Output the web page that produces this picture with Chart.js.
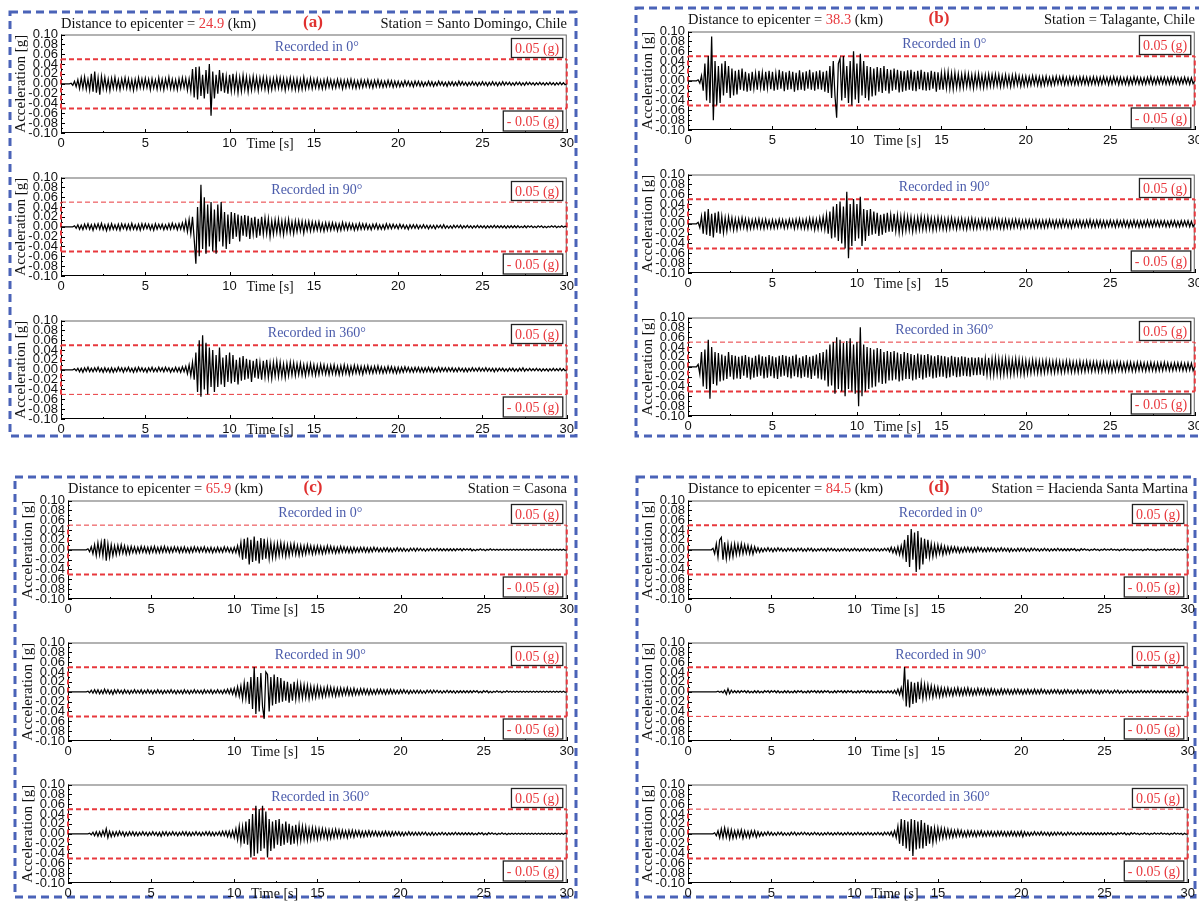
<!DOCTYPE html>
<html>
<head>
<meta charset="utf-8">
<script src="https://cdn.jsdelivr.net/npm/chart.js@4.4.0/dist/chart.umd.min.js"></script>
<style>
  html, body { margin:0; padding:0; background:#fff; width:1199px; height:901px; overflow:hidden; position:relative; }
  canvas.plot { position:absolute; }
  #frames { position:absolute; left:0; top:0; }
  .hdr { position:absolute; font-family:'Liberation Serif','Times New Roman',serif; font-size:14.5px; line-height:18px; color:#111; white-space:nowrap; }
  .red { color:#e8383d; }
  .tag { font-weight:bold; font-size:17px; color:#e0302f; text-align:center; }
</style>
</head>
<body>
<canvas id="frames" width="1199" height="901"></canvas>
<script>
const stations = ['Santo Domingo, Chile', 'Talagante, Chile', 'Casona', 'Hacienda Santa Martina'];
const distances = ['24.9', '38.3', '65.9', '84.5'];
const panelTags = ['(a)', '(b)', '(c)', '(d)'];
const directions = ['0°', '90°', '360°'];
const limitG = 0.05;
const yMin = -0.1, yMax = 0.1, yStep = 0.02;
const xMax = 30, xStep = 5;
const dt = 0.1;   // one value every 0.1 s

// accelerations in thousandths of g, one row = 1 s
const a0 = [
0,0,0,0,0,0,1,-3,5,-6, 8,-10,12,-9,14,-11,9,-13,20,-16, 25,-18,12,-22,15,-10,13,-12,9,-14,
11,-9,13,-10,8,-12,10,-8,12,-9, 10,-11,8,-13,9,-10,12,-8,10,-9, 11,-8,9,-12,10,-9,8,-11,12,-10,
9,-12,10,-8,13,-10,9,-11,8,-12, 10,-9,12,-8,11,-13,10,-15,30,-28, 34,-32,35,-25,18,-30,28,-20,40,-65,
25,-30,18,-20,28,-15,22,-18,15,-20, 18,-15,20,-14,16,-18,13,-15,17,-12, 14,-16,12,-13,15,-11,13,-14,12,-10,
13,-11,12,-14,10,-12,11,-10,13,-9, 12,-10,11,-13,10,-9,12,-11,10,-12, 10,-12,9,-11,13,-10,8,-9,11,-10,
9,-8,10,-9,7,-10,8,-9,10,-7, 8,-9,7,-8,9,-7,8,-10,7,-8, 8,-7,9,-8,7,-9,6,-8,8,-7,
7,-6,8,-7,6,-8,7,-6,8,-6, 6,-7,5,-6,7,-5,6,-7,5,-6, 5,-6,4,-5,6,-4,5,-5,4,-6,
5,-4,5,-5,4,-5,3,-4,5,-4, 4,-5,3,-4,5,-3,4,-4,3,-5, 4,-3,4,-4,3,-4,5,-3,4,-3,
3,-4,3,-3,4,-3,3,-4,3,-3, 4,-3,3,-4,3,-3,4,-3,3,-4, 3,-3,4,-3,3,-2,3,-3,2,-3,
3,-2,3,-3,2,-3,3,-2,3,-2, 2,-3,2,-2,3,-2,2,-3,2,-2, 3,-2,2,-3,2,-2,3,-2,2,-2, 0];
const a90 = [
0,0,0,0,0,0,0,0,2,-3, 4,-5,3,-6,5,-4,6,-5,4,-7, 5,-4,6,-5,7,-6,4,-8,5,-6,
6,-5,4,-6,5,-7,6,-4,5,-6, 5,-6,7,-5,4,-6,5,-7,6,-5, 6,-4,5,-6,4,-7,6,-5,5,-4,
5,-6,4,-5,6,-5,7,-4,5,-6, 6,-5,8,-7,12,-10,15,-14,20,-25, -75,40,-60,85,-45,60,-55,45,-40,50,
-50,35,-55,45,-30,50,-40,30,-45,25, -35,30,-25,28,-20,25,-30,22,-18,24, -20,22,-25,18,-15,20,-22,16,-18,20,
-15,18,-14,16,-20,12,-15,14,-12,15, -14,12,-16,13,-11,15,-12,10,-14,12, -10,12,-9,11,-13,10,-8,11,-9,10,
-8,9,-7,10,-8,7,-9,8,-7,8, -7,8,-6,7,-8,6,-7,9,-6,7, -6,7,-5,6,-7,5,-6,7,-5,6,
-5,6,-5,4,-6,5,-4,6,-5,4, -5,4,-5,6,-4,5,-4,5,-3,4, -4,5,-3,4,-4,3,-5,4,-3,4,
-3,4,-4,3,-3,4,-3,3,-4,3, -3,3,-4,3,-2,3,-3,4,-3,2, -3,2,-3,3,-2,3,-2,3,-3,2,
-2,3,-2,2,-3,2,-2,3,-2,2, -2,2,-3,2,-2,2,-2,3,-2,2, -2,2,-2,2,-3,2,-2,2,-2,2,
-2,2,-2,1,-2,2,-2,2,-1,2, -2,1,-2,2,-1,2,-2,1,-2,1, -1,2,-1,2,-2,1,-1,2,-1,1, 0];
const a360 = [
0,0,0,0,0,0,0,0,2,-2, 3,-4,3,-5,4,-3,5,-4,3,-4, 4,-3,5,-4,3,-5,4,-4,3,-5,
4,-5,3,-4,5,-3,4,-5,4,-3, 5,-4,3,-5,4,-4,5,-3,4,-4, 3,-5,4,-3,5,-4,3,-4,5,-3,
4,-4,5,-3,4,-5,3,-4,5,-4, 4,-5,6,-4,7,-8,10,-12,15,-20, 35,-45,60,-55,70,-40,55,-50,45,-35,
40,-45,30,-35,45,-30,25,-35,30,-25, 35,-28,30,-25,20,-30,25,-22,28,-20, 22,-18,20,-25,18,-16,22,-18,15,-20,
18,-15,20,-16,14,-18,15,-13,17,-14, 15,-14,12,-16,13,-12,15,-11,14,-12, 12,-10,13,-11,10,-12,11,-9,12,-10,
10,-11,9,-10,11,-8,10,-9,8,-10, 9,-8,10,-9,7,-10,8,-9,10,-8, 8,-10,7,-8,9,-7,8,-8,7,-9,
7,-6,8,-7,6,-7,7,-6,8,-6, 6,-7,5,-6,7,-5,6,-6,5,-7, 5,-6,5,-5,6,-4,5,-5,4,-5,
5,-4,5,-5,4,-5,4,-4,5,-4, 4,-5,3,-4,5,-4,4,-3,4,-4, 4,-3,4,-4,3,-4,4,-3,3,-4,
3,-4,3,-3,4,-3,3,-3,4,-3, 3,-3,4,-3,3,-3,3,-4,3,-3, 3,-2,3,-3,2,-3,3,-2,3,-3,
2,-3,3,-2,4,-3,2,-2,3,-2, 2,-2,3,-2,2,-3,2,-2,2,-3, 2,-2,3,-2,2,-2,3,-2,2,-2, 0];
const b0 = [
0,0,0,0,0,0,2,-5,10,-20, 35,-40,50,-45,90,-80,40,-50,30,-45, 35,-30,40,-25,30,-35,25,-30,20,-28,
22,-18,25,-20,18,-22,15,-20,18,-16, 15,-18,20,-14,16,-20,18,-15,20,-17, 18,-20,15,-18,22,-16,19,-21,17,-18,
20,-17,18,-22,16,-19,21,-18,17,-20, 19,-16,22,-18,17,-20,19,-17,21,-18, 18,-22,20,-25,30,-35,40,-30,-75,35,
45,-40,50,-35,30,-45,40,-50,60,-38, 35,-45,55,-30,40,-35,30,-40,28,-32, 25,-30,28,-22,26,-25,30,-20,24,-26,
22,-20,25,-18,22,-24,20,-22,19,-20, 21,-18,22,-20,18,-21,20,-17,22,-19, 18,-20,17,-19,20,-16,18,-22,17,-18,
16,-18,17,-15,18,-16,15,-17,16,-14, 14,-15,13,-14,15,-12,14,-13,12,-15, 13,-12,14,-13,11,-14,12,-12,13,-11,
12,-11,13,-10,12,-12,10,-11,12,-10, 10,-12,11,-10,12,-9,10,-11,9,-10, 9,-10,8,-9,10,-8,9,-9,8,-10,
8,-9,9,-8,7,-9,8,-8,9,-7, 8,-7,9,-8,7,-8,8,-7,8,-8, 7,-8,8,-7,8,-7,7,-8,7,-7,
8,-7,7,-8,7,-7,8,-6,7,-8, 7,-7,8,-6,7,-8,7,-7,6,-7, 7,-8,6,-7,8,-6,7,-7,6,-7,
6,-7,7,-6,8,-7,6,-7,7,-6, 7,-6,7,-7,6,-7,7,-6,7,-6, 6,-7,6,-6,7,-6,6,-7,6,-6, 0];
const b90 = [
0,0,0,0,0,0,3,-8,15,-20, 25,-22,30,-25,20,-28,22,-18,25,-20, 15,-18,12,-15,14,-10,12,-13,10,-12,
10,-9,12,-8,10,-11,9,-10,8,-9, 9,-8,10,-9,8,-10,9,-8,7,-9, 8,-9,7,-8,9,-7,8,-9,7,-8,
9,-7,8,-10,9,-8,10,-9,8,-10, 9,-10,11,-9,10,-12,9,-11,12,-10, 14,-12,18,-20,25,-30,35,-28,40,-35,
45,-40,35,-50,65,-70,40,-45,50,-35, 40,-30,55,-45,30,-35,28,-25,30,-22, 25,-20,22,-25,18,-22,20,-18,22,-16,
18,-16,20,-15,17,-18,15,-17,16,-14, 15,-13,14,-16,12,-14,13,-12,15,-12, 13,-12,14,-11,12,-13,11,-12,13,-10,
12,-11,10,-12,11,-10,12,-9,10,-11, 10,-9,11,-10,9,-11,10,-9,11,-10, 9,-10,8,-9,10,-8,9,-10,8,-9,
9,-8,10,-8,9,-9,8,-10,9,-8, 8,-9,8,-8,9,-7,8,-9,7,-8, 8,-7,8,-8,7,-8,8,-7,7,-8,
7,-8,7,-7,8,-6,7,-8,7,-7, 7,-7,8,-6,7,-7,6,-8,7,-6, 7,-6,7,-7,6,-7,7,-6,8,-7,
6,-7,7,-6,7,-7,6,-7,6,-6, 7,-6,6,-7,7,-6,6,-6,7,-6, 6,-7,6,-6,7,-6,6,-7,6,-6,
6,-6,7,-6,6,-6,7,-5,6,-6, 6,-5,6,-6,5,-6,6,-5,6,-6, 5,-6,6,-5,6,-5,6,-6,5,-6, 0];
const b360 = [
0,0,0,0,0,0,5,-15,30,-40, 35,-45,55,-65,40,-35,30,-38,28,-30, 25,-28,22,-25,30,-20,24,-26,22,-24,
20,-25,22,-18,24,-22,20,-26,18,-22, 22,-20,25,-18,21,-24,20,-22,24,-19, 21,-23,19,-25,22,-20,24,-18,22,-21,
20,-24,22,-19,25,-21,18,-23,21,-20, 24,-22,20,-25,22,-18,25,-24,28,-26, 30,-28,35,-40,45,-38,50,-55,60,-45,
55,-50,48,-60,52,-45,58,-50,45,-55, 50,-80,80,-60,45,-50,40,-45,38,-42, 35,-40,38,-32,36,-35,30,-34,32,-28,
30,-28,32,-26,29,-30,26,-28,30,-25, 28,-25,26,-28,24,-26,27,-23,25,-26, 24,-22,26,-20,23,-24,21,-22,24,-20,
22,-20,21,-23,19,-21,22,-18,20,-21, 19,-20,21,-18,20,-19,18,-20,19,-17, 18,-17,19,-16,18,-18,17,-16,18,-17,
16,-17,18,-15,16,-17,15,-16,17,-15, 15,-16,14,-15,16,-14,15,-15,14,-16, 13,-14,12,-13,14,-12,13,-13,12,-13,
12,-12,13,-11,12,-12,11,-12,12,-11, 11,-12,10,-11,12,-10,11,-11,10,-11, 10,-11,11,-10,10,-10,11,-9,10,-10,
10,-9,10,-10,9,-10,10,-9,9,-10, 9,-10,9,-9,10,-8,9,-9,8,-9, 9,-8,9,-9,8,-9,9,-8,9,-8,
8,-9,8,-8,9,-8,8,-9,8,-8, 8,-8,9,-7,8,-8,7,-8,8,-7, 8,-7,8,-8,7,-8,8,-7,7,-8, 0];
const c0 = [
0,0,0,0,0,0,0,0,0,0, 0,0,2,-4,6,-8,10,-12,14,-10, 15,-12,22,-22,12,-15,10,-12,8,-10,
9,-8,10,-7,8,-9,6,-8,7,-6, 6,-7,5,-6,7,-5,6,-6,5,-7, 6,-5,7,-6,5,-6,6,-5,7,-5,
5,-6,5,-5,6,-4,5,-6,5,-5, 6,-5,4,-6,5,-5,6,-4,5,-5, 5,-4,6,-5,4,-5,5,-6,4,-5,
5,-5,4,-5,6,-4,5,-5,4,-6, 5,-6,8,-10,15,-20,22,-18,25,-30, 20,-25,27,-22,18,-28,24,-20,22,-18,
15,-18,14,-16,12,-15,13,-12,14,-11, 12,-13,10,-12,11,-9,12,-10,9,-11, 9,-10,8,-9,10,-7,8,-9,7,-8,
8,-7,7,-8,6,-7,8,-6,7,-6, 6,-7,5,-6,7,-5,6,-5,5,-6, 5,-6,5,-5,4,-5,5,-4,5,-5,
4,-5,4,-4,5,-3,4,-4,3,-4, 4,-3,4,-4,3,-4,3,-3,4,-3, 3,-3,3,-3,2,-3,3,-2,3,-3,
3,-2,3,-2,2,-3,2,-2,3,-2, 2,-2,3,-2,2,-2,2,-2,2,-2, 2,-2,2,-2,2,-1,2,-2,2,-1,
2,-1,2,-2,1,-2,1,-1,2,-1, 1,-2,1,-1,2,-1,1,-1,1,-1, 1,-1,1,-1,1,-1,1,-1,1,-1,
1,-1,1,-1,1,-1,1,-1,1,-1, 1,-1,1,-1,1,-1,1,-1,1,-1, 1,-1,1,-1,1,-1,1,-1,1,-1, 0];
const c90 = [
0,0,0,0,0,0,0,0,0,0, 0,0,1,-2,3,-3,4,-3,4,-4, 3,-4,5,-3,4,-4,3,-5,4,-3,
4,-3,3,-4,4,-3,3,-4,3,-3, 4,-3,3,-3,4,-4,3,-3,4,-3, 3,-4,3,-3,4,-3,3,-4,3,-3,
3,-3,4,-3,3,-4,3,-3,3,-4, 4,-3,3,-4,3,-3,4,-3,3,-3, 3,-4,4,-3,3,-3,4,-4,3,-3,
4,-3,3,-4,4,-3,5,-4,6,-5, 7,-8,10,-9,12,-15,18,-14,20,-25, 30,-35,50,-45,30,-40,38,-30,-55,40,
35,-40,30,-28,35,-25,30,-22,28,-20, 22,-18,20,-22,16,-18,20,-15,17,-14, 15,-13,14,-12,13,-14,11,-12,10,-11,
11,-10,9,-10,8,-9,10,-8,9,-8, 8,-9,7,-8,8,-7,7,-6,8,-7, 6,-7,7,-6,5,-6,6,-5,6,-5,
5,-6,5,-5,4,-5,5,-4,5,-4, 4,-5,4,-4,5,-4,4,-4,3,-4, 4,-3,4,-3,3,-4,3,-3,3,-3,
3,-3,3,-3,2,-3,3,-2,3,-3, 3,-2,3,-2,2,-3,2,-2,3,-2, 2,-2,2,-3,2,-2,2,-2,2,-2,
2,-2,2,-2,2,-1,2,-2,1,-2, 2,-1,2,-2,1,-2,1,-1,2,-1, 1,-2,1,-1,2,-1,1,-1,1,-1,
1,-1,1,-1,1,-1,1,-1,1,-1, 1,-1,1,-1,1,-1,1,-1,1,-1, 1,-1,1,-1,1,-1,1,-1,1,-1, 0];
const c360 = [
0,0,0,0,0,0,0,0,0,0, 0,0,0,1,-2,3,-4,4,-5,4, -5,6,-4,10,-8,5,-6,4,-5,4,
-4,5,-3,4,-5,3,-4,4,-3,4, -4,3,-4,3,-3,4,-3,3,-4,3, -3,4,-3,3,-4,3,-5,4,-3,4,
-4,3,-3,4,-3,3,-4,3,-3,4, -3,4,-4,3,-4,3,-3,4,-3,3, -4,3,-3,4,-3,4,-4,3,-4,3,
-3,4,-4,5,-4,5,-6,5,-7,6, -8,10,-12,15,-18,14,-20,25,-22,30, -48,40,-45,57,-40,50,-35,57,-30,45,
-48,30,-35,25,-30,28,-22,30,-25,20, -22,25,-18,20,-22,16,-20,18,-15,17, -14,15,-12,14,-13,11,-12,12,-10,11,
-11,10,-9,10,-8,9,-10,8,-9,8, -8,9,-7,8,-8,7,-7,6,-8,7, -6,7,-7,6,-5,6,-6,5,-6,5,
-5,6,-5,5,-4,5,-5,4,-5,4, -4,5,-4,4,-5,4,-4,4,-3,4, -4,3,-4,3,-3,4,-3,3,-3,3,
-3,3,-3,3,-2,3,-3,2,-3,3, -3,2,-3,2,-2,3,-2,2,-3,2, -2,2,-2,3,-2,2,-2,2,-2,2,
-2,2,-2,2,-2,1,-2,2,-1,2, -2,1,-2,2,-1,2,-1,1,-2,1, -1,2,-1,1,-2,1,-1,1,-1,1,
-1,1,-1,1,-1,1,-1,1,-1,1, -1,1,-1,1,-1,1,-1,1,-1,1, -1,1,-1,1,-1,1,-1,1,-1,1, 0];
const d0 = [
0,0,0,0,0,0,0,0,0,0, 0,0,0,0,0,3,-8,12,-15,20, 25,-20,15,-18,12,-15,10,-14,12,-10,
11,-9,12,-8,10,-7,9,-8,7,-9, 6,-5,4,-5,3,-4,3,-3,4,-3, 3,-4,3,-3,4,-2,3,-3,2,-3,
3,-2,3,-3,2,-3,3,-2,3,-3, 2,-3,3,-2,3,-3,2,-3,2,-2, 3,-2,2,-3,3,-2,3,-2,2,-3,
2,-3,2,-2,3,-2,2,-3,2,-2, 3,-2,2,-3,2,-2,3,-2,2,-3, 2,-2,3,-2,2,-3,2,-2,3,-2,
3,-4,5,-6,4,-8,6,-10,8,-12, 20,-25,30,-35,42,-20,35,-45,38,-40, 25,-30,22,-18,20,-15,12,-14,10,-12,
10,-8,9,-10,7,-8,6,-7,6,-5, 6,-5,5,-6,4,-5,5,-4,5,-4, 4,-5,4,-4,5,-3,4,-4,3,-4,
4,-3,4,-3,3,-4,3,-3,4,-3, 3,-3,3,-4,3,-3,2,-3,3,-3, 3,-2,3,-3,2,-3,3,-2,3,-2,
2,-3,2,-2,3,-2,2,-3,2,-2, 2,-2,3,-2,2,-2,2,-2,2,-2, 2,-1,2,-2,1,-2,2,-1,2,-1,
1,-2,1,-1,2,-1,1,-2,1,-1, 2,-1,1,-1,2,-1,1,-1,1,-2, 1,-1,2,-1,1,-1,1,-2,1,-1,
1,-1,1,-2,1,-1,2,-1,1,-1, 1,-2,1,-1,1,-1,2,-1,1,-1, 1,-1,2,-1,1,-1,1,-1,2,-1, 0];
const d90 = [
0,0,0,0,0,0,0,0,0,0, 0,0,0,0,0,0,0,0,1,-1, 1,-2,3,-5,6,-4,3,-2,2,-2,
2,-2,2,-1,2,-2,2,-2,1,-2, 2,-2,2,-2,1,-2,2,-1,2,-2, 2,-1,2,-2,2,-2,1,-2,2,-2,
2,-2,1,-2,2,-2,2,-1,2,-2, 1,-2,2,-2,2,-1,2,-2,2,-2, 2,-2,2,-1,2,-2,1,-2,2,-2,
2,-1,2,-2,2,-2,2,-1,2,-2, 1,-2,2,-2,2,-1,2,-2,2,-2, 2,-2,1,-2,2,-2,2,-2,1,-2,
2,-2,2,-3,3,-4,5,-6,8,-10, 50,-30,25,-32,20,-25,18,-22,20,-15, 18,-14,15,-12,14,-10,12,-11,10,-9,
9,-10,8,-9,7,-8,8,-7,6,-8, 7,-6,8,-7,6,-7,7,-6,8,-6, 6,-7,5,-6,7,-5,6,-5,6,-6,
5,-6,6,-5,5,-6,4,-5,6,-5, 5,-4,5,-5,4,-5,5,-4,5,-4, 4,-5,4,-4,5,-4,4,-4,5,-4,
4,-4,5,-3,4,-4,3,-4,4,-3, 4,-3,4,-4,3,-4,4,-3,4,-3, 3,-4,3,-3,4,-3,3,-4,3,-3,
3,-3,4,-3,3,-3,3,-4,3,-3, 3,-2,3,-3,2,-3,3,-2,3,-3, 2,-3,2,-2,3,-2,2,-3,2,-2,
2,-2,3,-2,2,-2,2,-2,3,-2, 2,-2,2,-2,2,-2,2,-2,2,-2, 2,-2,2,-2,2,-2,2,-2,2,-2, 0];
const d360 = [
0,0,0,0,0,0,0,0,0,0, 0,0,0,0,0,0,2,-4,6,-8, 10,-8,12,-7,9,-10,8,-9,6,-8,
7,-6,8,-9,6,-7,5,-8,6,-5, 6,-7,4,-5,3,-4,3,-3,4,-3, 3,-3,2,-3,3,-2,3,-3,2,-3,
2,-3,3,-2,3,-3,2,-2,3,-2, 3,-2,2,-3,2,-2,3,-2,2,-3, 2,-3,2,-2,3,-2,2,-3,2,-2,
3,-2,2,-3,2,-2,3,-2,2,-3, 2,-2,3,-2,2,-3,2,-2,3,-2, 2,-3,2,-2,3,-2,2,-3,3,-2,
3,-3,4,-5,6,-8,15,-20,30,-25, 28,-30,25,-35,30,-45,28,-32,25,-30, 28,-30,22,-25,18,-20,15,-18,12,-14,
12,-10,11,-9,10,-8,9,-7,8,-7, 7,-6,8,-5,7,-6,5,-6,6,-5, 6,-5,5,-6,5,-4,6,-5,4,-5,
5,-4,5,-5,4,-5,5,-4,5,-4, 4,-5,4,-4,5,-4,4,-5,4,-4, 5,-6,4,-4,3,-4,3,-3,4,-3,
3,-3,4,-3,3,-3,3,-4,3,-3, 3,-3,3,-2,3,-3,2,-3,3,-2, 3,-2,2,-3,2,-2,3,-2,2,-2,
2,-2,2,-2,2,-2,2,-2,2,-2, 2,-2,2,-1,2,-2,1,-2,2,-1, 2,-1,2,-2,1,-2,2,-1,2,-1,
1,-2,1,-1,2,-1,1,-2,1,-1, 2,-1,1,-1,2,-1,1,-1,1,-2, 1,-1,2,-1,1,-1,1,-2,1,-1, 0];

const traces = [[a0, a90, a360], [b0, b90, b360], [c0, c90, c360], [d0, d90, d360]];
// widths of the dashed +0.05 / -0.05 g lines in each plot
const limitWidths = [[[2,2],[1,2],[2,1]], [[2,2],[2,2],[1,2]], [[1,2],[2,2],[2,2]], [[2,2],[2,1],[1,2]]];

// page layout (pixels)
const panels = [
  { box:[10,12,576,436], plotL:61, plotR:567, tops:[33,176,319], hdrY:23, tagX:313 },
  { box:[636,8,1210,436], plotL:688, plotR:1195, tops:[30,173,316], hdrY:19, tagX:939 },
  { box:[15,477,576,897], plotL:68, plotR:567, tops:[499,641,783], hdrY:488, tagX:313 },
  { box:[637,477,1195,897], plotL:688, plotR:1188, tops:[499,641,783], hdrY:488, tagX:939 }
];

const SERIF = "'Liberation Serif','Times New Roman',serif";
const SANS = "'Liberation Sans Narrow','Liberation Sans',Arial,sans-serif";
const RED = '#e8383d';
const BLUE = '#4a5bab';

// dashed blue panel frames
const fctx = document.getElementById('frames').getContext('2d');
fctx.strokeStyle = '#4a63b8';
fctx.lineWidth = 3;
fctx.setLineDash([8, 5]);
panels.forEach(p => {
  const [l, t, r, b] = p.box;
  fctx.strokeRect(l, t, r - l, b - t);
});

function addDiv(html, cls, left, top, width, align) {
  const d = document.createElement('div');
  d.className = cls;
  d.innerHTML = html;
  d.style.left = left + 'px';
  d.style.top = top + 'px';
  if (width) { d.style.width = width + 'px'; d.style.textAlign = align; }
  document.body.appendChild(d);
}

// axis box, inner ticks, labels and limit boxes
const seismoDeco = {
  id: 'seismo',
  beforeDatasetsDraw(chart) {
    const { ctx, chartArea: a, scales: { x, y } } = chart;
    ctx.save();
    ctx.lineWidth = 1;
    ctx.strokeStyle = '#666';
    ctx.strokeRect(a.left + 0.5, a.top + 0.5, a.right - a.left - 1, a.bottom - a.top - 1);
    ctx.strokeStyle = '#000';
    ctx.beginPath();
    ctx.moveTo(a.left + 0.5, a.top);
    ctx.lineTo(a.left + 0.5, a.bottom - 0.5);
    ctx.lineTo(a.right, a.bottom - 0.5);
    for (let k = 0; k <= 20; k++) {
      const py = Math.round(y.getPixelForValue(yMin + k * yStep / 2)) + 0.5;
      const len = k % 2 === 0 ? 4 : 2;
      ctx.moveTo(a.left, py);
      ctx.lineTo(a.left + len, py);
    }
    for (let k = 0; k <= 12; k++) {
      const px = Math.round(x.getPixelForValue(k * xStep / 2)) + 0.5;
      const len = k % 2 === 0 ? 4 : 2;
      ctx.moveTo(px, a.bottom);
      ctx.lineTo(px, a.bottom - len);
    }
    ctx.stroke();
    ctx.restore();
  },
  afterDatasetsDraw(chart, args, opts) {
    const { ctx, chartArea: a, scales: { x } } = chart;
    ctx.save();
    ctx.font = '14px ' + SERIF;
    ctx.textBaseline = 'middle';
    ctx.textAlign = 'center';
    ctx.fillStyle = BLUE;
    ctx.fillText(opts.label, (a.left + a.right) / 2 + 3, a.top + 13);

    const box = (txt, top, h) => {
      const w = ctx.measureText(txt).width + 7;
      const r = a.right - 4;
      ctx.fillStyle = '#fff';
      ctx.fillRect(r - w, top, w, h);
      ctx.strokeStyle = '#222';
      ctx.lineWidth = 1.3;
      ctx.strokeRect(r - w, top, w, h);
      ctx.fillStyle = RED;
      ctx.textAlign = 'center';
      ctx.fillText(txt, r - w / 2, top + h / 2 + 1);
    };
    box(limitG.toFixed(2) + ' (g)', a.top + 4, 19);
    box('- ' + limitG.toFixed(2) + ' (g)', a.bottom - 22, 20);

    ctx.fillStyle = '#111';
    ctx.textAlign = 'left';
    ctx.fillText('Time [s]', x.getPixelForValue(11), a.bottom + 11);
    ctx.restore();
  }
};

panels.forEach((p, pi) => {
  addDiv('Distance to epicenter = <span class="red">' + distances[pi] + '</span> (km)', 'hdr', p.plotL, p.hdrY - 9);
  addDiv(panelTags[pi], 'hdr tag', p.tagX - 20, p.hdrY - 10, 40, 'center');
  addDiv('Station = ' + stations[pi], 'hdr', p.plotL, p.hdrY - 9, p.plotR - p.plotL, 'right');

  p.tops.forEach((top, si) => {
    const cv = document.createElement('canvas');
    cv.className = 'plot';
    cv.width = p.plotR - p.plotL + 70;
    cv.height = 130;
    cv.style.left = (p.plotL - 60) + 'px';
    cv.style.top = (top - 8) + 'px';
    document.body.appendChild(cv);

    const pts = traces[pi][si].map((v, i) => ({ x: Math.round(i * dt * 10) / 10, y: v / 1000 }));
    const [wt, wb] = limitWidths[pi][si];
    const dash = (data, w) => ({ data, borderColor: RED, borderWidth: w, borderDash: [5, 3], pointRadius: 0, clip: false });

    new Chart(cv, {
      type: 'line',
      data: {
        datasets: [
          { data: pts, borderColor: '#000', borderWidth: 1.25, pointRadius: 0, tension: 0 },
          dash([{ x: 0, y: limitG }, { x: xMax, y: limitG }], wt),
          dash([{ x: 0, y: -limitG }, { x: xMax, y: -limitG }], wb),
          dash([{ x: 0, y: -limitG }, { x: 0, y: limitG }], 2),
          dash([{ x: xMax, y: -limitG }, { x: xMax, y: limitG }], 2)
        ]
      },
      plugins: [seismoDeco],
      options: {
        responsive: false,
        animation: false,
        devicePixelRatio: 1,
        layout: { padding: { left: 0, right: 10, top: 8, bottom: 0 } },
        plugins: {
          legend: { display: false },
          tooltip: { enabled: false },
          seismo: { label: 'Recorded in ' + directions[si] }
        },
        scales: {
          x: {
            type: 'linear', min: 0, max: xMax,
            grid: { display: false, drawTicks: false }, border: { display: false },
            ticks: { stepSize: xStep, padding: 3, autoSkip: false, maxRotation: 0, color: '#111',
                     font: { family: SANS, size: 13 }, callback: v => String(v) },
            afterFit: s => { s.height = 22; }
          },
          y: {
            min: yMin, max: yMax,
            grid: { display: false, drawTicks: false }, border: { display: false },
            ticks: { stepSize: yStep, padding: 3, autoSkip: false, color: '#111',
                     font: { family: SANS, size: 13, lineHeight: 1 },
                     callback: v => (Math.abs(v) < 1e-9 ? 0 : v).toFixed(2) },
            title: { display: true, text: 'Acceleration [g]', color: '#111',
                     font: { family: SERIF, size: 15 }, padding: { top: 11, bottom: 0 } },
            afterFit: s => { s.width = 60; }
          }
        }
      }
    });
  });
});
</script>
</body>
</html>
